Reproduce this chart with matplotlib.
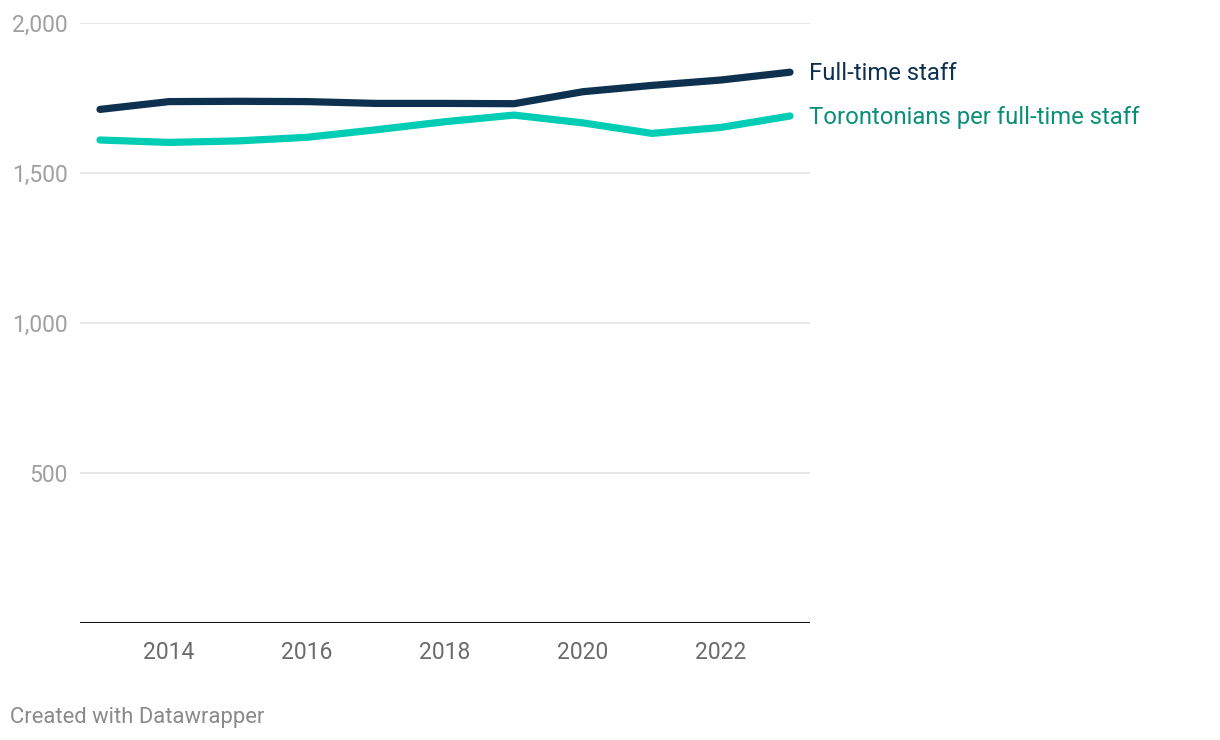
import numpy as np
import matplotlib
matplotlib.use('Agg')
import matplotlib.pyplot as plt

#data
years=[2013,2014,2015,2016,2017,2018,2019,2020,2021,2022,2023]
full_time_staff=[1712,1738,1739,1738,1732,1732,1731,1771,1792,1810,1836]
per_staff=[1610,1602,1607,1619,1644,1671,1693,1667,1632,1652,1690]
y_ticks=[500,1000,1500,2000]
x_ticks=[2014,2016,2018,2020,2022]

dark_color='#0e3150'
teal_color='#00cdb4'
teal_text='#0a8f79'

plt.rcParams['font.family']=['Roboto','DejaVu Sans']

figure=plt.figure(figsize=(12.2,7.4),dpi=100)
ax=figure.add_axes([80/1220,1-623/740,730/1220,600/740])

#gridlines
for this_y in y_ticks:
    ax.axhline(this_y,color='#e0e0e0',lw=1.1,zorder=1)
ax.axhline(0,color='#111111',lw=1.5,zorder=3)

ax.plot(years,per_staff,color=teal_color,lw=5.2,solid_capstyle='round',solid_joinstyle='round',zorder=4)
ax.plot(years,full_time_staff,color=dark_color,lw=5.2,solid_capstyle='round',solid_joinstyle='round',zorder=5)

ax.set_xlim(2013-20/69,2023+20/69)
ax.set_ylim(0,2000)

for spine in ax.spines.values():
    spine.set_visible(False)

ax.set_yticks(y_ticks)
ax.set_yticklabels(['{:,}'.format(v) for v in y_ticks])
ax.tick_params(axis='y',length=0,pad=9,labelsize=16.5,labelcolor='#a0a0a0')
ax.set_xticks(x_ticks)
ax.set_xticklabels([str(v) for v in x_ticks])
ax.tick_params(axis='x',length=0,pad=13,labelsize=16.5,labelcolor='#6b6b6b')

#line labels
ax.annotate('Full-time staff',xy=(years[-1],full_time_staff[-1]),
            xytext=(14,-1),textcoords='offset points',
            va='center',ha='left',fontsize=17.2,color=dark_color,annotation_clip=False)
ax.annotate('Torontonians per full-time staff',xy=(years[-1],per_staff[-1]),
            xytext=(14,-1),textcoords='offset points',
            va='center',ha='left',fontsize=17.2,color=teal_text,annotation_clip=False)

figure.text(10/1220,1-717/740,'Created with Datawrapper',fontsize=15.8,color='#8a8a8a',va='center',ha='left')

figure.savefig('out.png',dpi=100)
plt.close()
